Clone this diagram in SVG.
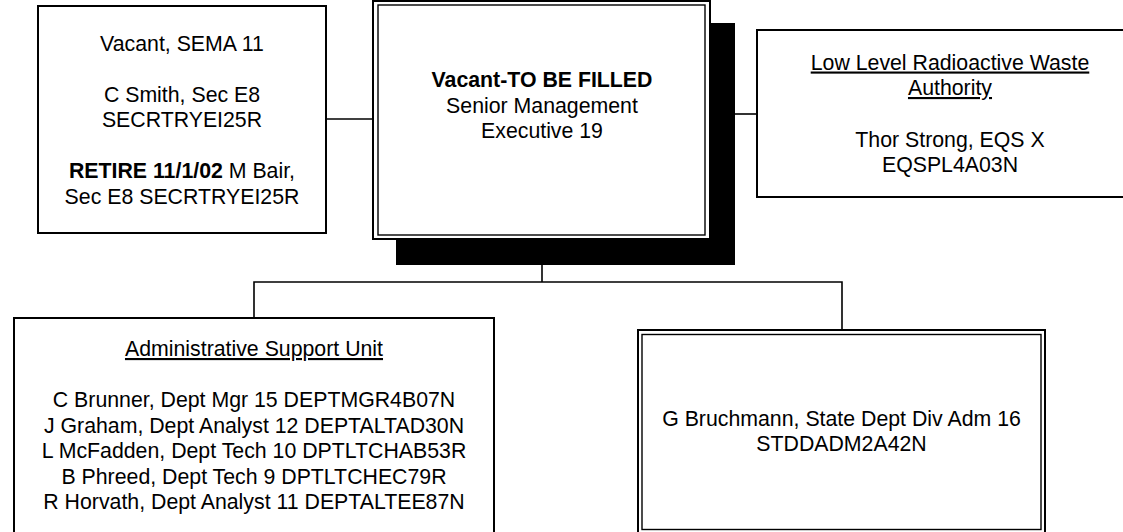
<svg xmlns="http://www.w3.org/2000/svg" width="1123" height="532" viewBox="0 0 1123 532">
<style>
.box{fill:#fff;stroke:#000;stroke-width:2}
.inner{fill:none;stroke:#000;stroke-width:1.4}
.conn{fill:none;stroke:#000;stroke-width:1.6}
text{font-family:"Liberation Sans",Arial,sans-serif;font-size:21.3px;fill:#000;text-anchor:middle}
.b{font-weight:bold}
.u{text-decoration:underline}
</style>
<rect width="1123" height="532" fill="#fff"/>
<g id="connectors">
<line class="conn" x1="326" y1="119" x2="373" y2="119"/>
<line class="conn" x1="735" y1="114" x2="757" y2="114"/>
<polyline class="conn" points="542,265 542,282"/>
<polyline class="conn" points="254,318 254,282 842,282 842,330"/>
</g>
<g id="node-vacant-sema">
<rect class="box" x="38" y="6" width="288" height="227"/>
<text x="182" y="50.5">Vacant, SEMA 11</text>
<text x="182" y="101.5">C Smith, Sec E8</text>
<text x="182" y="127">SECRTRYEI25R</text>
<text x="182" y="178"><tspan class="b">RETIRE 11/1/02</tspan> M Bair,</text>
<text x="182" y="203.5">Sec E8 SECRTRYEI25R</text>
</g>
<g id="node-senior-mgmt">
<rect x="396" y="23" width="339" height="242" fill="#000"/>
<rect class="box" x="373" y="1" width="337" height="238"/>
<rect class="inner" x="378" y="5" width="327" height="230"/>
<text x="542" y="87"><tspan class="b">Vacant-TO BE FILLED</tspan></text>
<text x="542" y="112.5">Senior Management</text>
<text x="542" y="138">Executive 19</text>
</g>
<g id="node-llrw">
<rect class="box" x="757" y="30" width="390" height="167"/>
<text x="950" y="69.5" class="u">Low Level Radioactive Waste</text>
<text x="950" y="95" class="u">Authority</text>
<text x="950" y="146.5">Thor Strong, EQS X</text>
<text x="950" y="172">EQSPL4A03N</text>
</g>
<g id="node-admin-support">
<rect class="box" x="14" y="318" width="480" height="230"/>
<text x="254" y="356" class="u">Administrative Support Unit</text>
<text x="254" y="407">C Brunner, Dept Mgr 15 DEPTMGR4B07N</text>
<text x="254" y="432.5">J Graham, Dept Analyst 12 DEPTALTAD30N</text>
<text x="254" y="458">L McFadden, Dept Tech 10 DPTLTCHAB53R</text>
<text x="254" y="483.5">B Phreed, Dept Tech 9 DPTLTCHEC79R</text>
<text x="254" y="509">R Horvath, Dept Analyst 11 DEPTALTEE87N</text>
</g>
<g id="node-bruchmann">
<rect class="box" x="638" y="330" width="407" height="204"/>
<rect class="inner" x="642" y="334.5" width="399" height="195"/>
<text x="841.5" y="426">G Bruchmann, State Dept Div Adm 16</text>
<text x="841.5" y="451">STDDADM2A42N</text>
</g>
</svg>
